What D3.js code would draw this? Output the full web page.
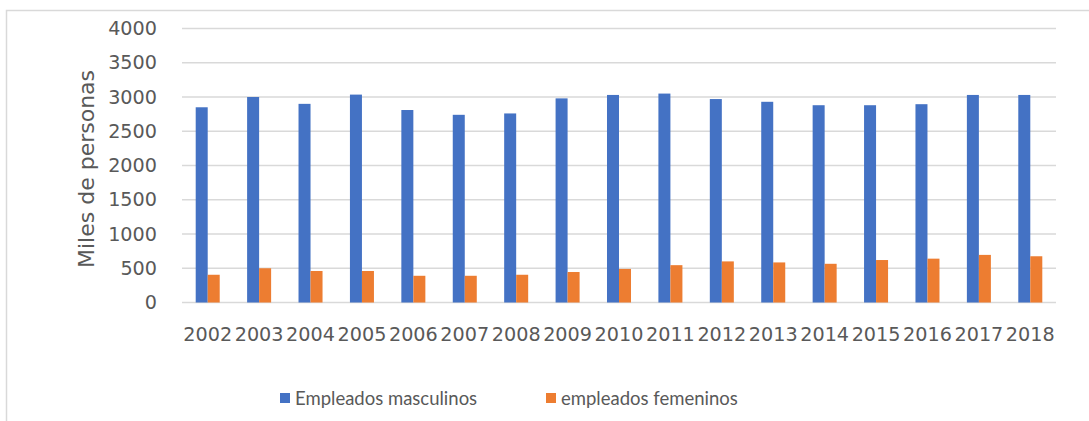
<!DOCTYPE html>
<html>
<head>
<meta charset="utf-8">
<script src="https://cdn.jsdelivr.net/npm/d3@7"></script>
<style>
  html, body { margin: 0; padding: 0; background: #fff; }
  svg { display: block; }
  text { fill: #595959; }
</style>
</head>
<body>
<svg id="chart" width="1089" height="421"></svg>
<script>
// Employment by sex, thousands of persons
const years = ["2002","2003","2004","2005","2006","2007","2008","2009","2010",
               "2011","2012","2013","2014","2015","2016","2017","2018"];
const masculinos = [2850, 3000, 2900, 3035, 2810, 2740, 2760, 2980, 3030,
                    3050, 2970, 2930, 2880, 2880, 2895, 3030, 3030];
const femeninos  = [405, 500, 460, 460, 390, 390, 405, 445, 490,
                    545, 600, 585, 565, 620, 640, 695, 675];
const seriesNames = ["Empleados masculinos", "empleados femeninos"];
const seriesColors = ["#4472C4", "#ED7D31"];
const yTicks = [0, 500, 1000, 1500, 2000, 2500, 3000, 3500, 4000];
const yTitle = "Miles de personas";

const svg = d3.select("#chart");
const W = 1089, H = 421;
const plot = { left: 182, right: 1056, top: 28.5, bottom: 302.5 };
const axisFont = "DejaVu Sans, sans-serif";
const textColor = "#555555";

// chart area frame
svg.append("rect")
  .attr("x", 6.5).attr("y", 10.5)
  .attr("width", W + 10).attr("height", H + 10)
  .attr("fill", "#fff").attr("stroke", "#d9d9d9").attr("stroke-width", 1.5);

const x0 = d3.scaleBand().domain(years)
  .range([plot.left, plot.right])
  .paddingInner(0.533).paddingOuter(0.2665);
const x1 = d3.scaleBand().domain(seriesNames).range([0, x0.bandwidth()]);
const y = d3.scaleLinear().domain([0, 4000]).range([plot.bottom, plot.top]);

// horizontal gridlines
svg.append("g").selectAll("line").data(yTicks).join("line")
  .attr("x1", plot.left).attr("x2", plot.right)
  .attr("y1", d => y(d)).attr("y2", d => y(d))
  .attr("stroke", "#d9d9d9").attr("stroke-width", 1.5);

// y axis labels
const yAxis = svg.append("g")
  .attr("transform", `translate(${plot.left},0)`)
  .call(d3.axisLeft(y).tickValues(yTicks).tickSize(0).tickPadding(25).tickFormat(d3.format("d")));
yAxis.select(".domain").remove();
yAxis.selectAll("text")
  .attr("font-family", axisFont)
  .attr("font-size", 19.2).attr("fill", textColor);

// x axis labels
const xAxis = svg.append("g")
  .attr("transform", `translate(0,${plot.bottom})`)
  .call(d3.axisBottom(x0).tickSize(0).tickPadding(25));
xAxis.select(".domain").remove();
xAxis.selectAll("text")
  .attr("font-family", axisFont)
  .attr("font-size", 19.2).attr("fill", textColor);

// bars
const rows = years.map((yr, i) => ({ year: yr, values: [masculinos[i], femeninos[i]] }));
svg.append("g").selectAll("g").data(rows).join("g")
  .attr("transform", d => `translate(${x0(d.year)},0)`)
  .selectAll("rect")
  .data(d => d.values.map((v, k) => ({ name: seriesNames[k], value: v, color: seriesColors[k] })))
  .join("rect")
  .attr("x", d => x1(d.name))
  .attr("width", x1.bandwidth())
  .attr("y", d => y(d.value))
  .attr("height", d => y(0) - y(d.value))
  .attr("fill", d => d.color);

// y axis title
svg.append("text")
  .attr("transform", `translate(94,169) rotate(-90)`)
  .attr("text-anchor", "middle")
  .attr("font-family", axisFont)
  .attr("font-size", 22)
  .attr("fill", textColor)
  .text(yTitle);

// legend
const legendX = [280, 546];
const leg = svg.append("g").selectAll("g").data(seriesNames).join("g")
  .attr("transform", (d, i) => `translate(${legendX[i]},398)`);
leg.append("rect").attr("x", 0).attr("y", -5).attr("width", 10).attr("height", 10)
  .attr("fill", (d, i) => seriesColors[i]);
leg.append("text").attr("x", 15).attr("dy", "0.36em")
  .attr("font-family", "Lato, sans-serif")
  .attr("font-size", 18.5).attr("fill", textColor).text(d => d);
</script>
</body>
</html>
